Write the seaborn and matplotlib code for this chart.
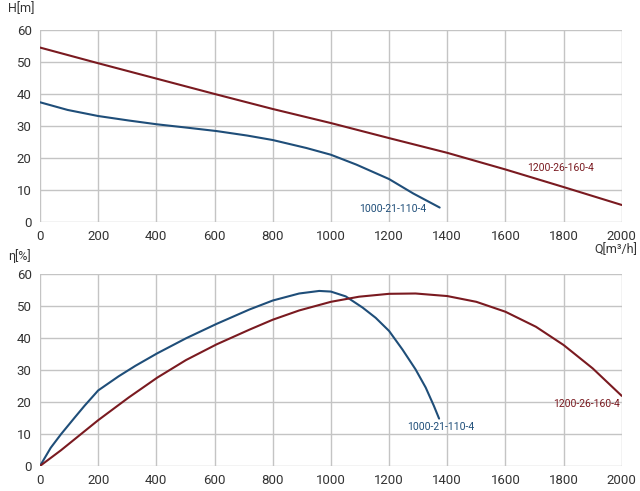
import seaborn as sns
import matplotlib.pyplot as plt
import pandas as pd

# head curves H[m] vs Q[m3/h]
q_small = [0, 95, 200, 305, 403, 502, 607, 712, 800, 916, 1000, 1088, 1200, 1283, 1374]
h_small = [37.4, 35.0, 33.1, 31.7, 30.5, 29.5, 28.4, 27.0, 25.6, 23.1, 21.0, 17.9, 13.4, 8.9, 4.5]
q_big = [0, 200, 400, 600, 800, 1000, 1200, 1400, 1600, 1800, 2000]
h_big = [54.5, 49.6, 44.8, 40.0, 35.3, 30.9, 26.2, 21.6, 16.4, 10.9, 5.3]

# efficiency curves eta[%] vs Q
qe_small = [0, 37, 72, 119, 153, 200, 270, 328, 403, 502, 607, 720, 800, 891, 960,
            1000, 1051, 1109, 1154, 1200, 1246, 1291, 1326, 1354, 1372]
eta_small = [0, 5.7, 9.9, 15.1, 18.8, 23.6, 28.0, 31.3, 35.2, 39.9, 44.4, 48.9, 51.7, 53.9, 54.7,
             54.5, 53.0, 49.5, 46.3, 42.2, 36.4, 30.2, 24.5, 18.8, 14.8]
qe_big = [0, 72, 136, 200, 305, 403, 502, 607, 720, 800, 891, 1000, 1097, 1200, 1291,
          1400, 1500, 1600, 1705, 1800, 1900, 2000]
eta_big = [0, 4.9, 9.6, 14.3, 21.4, 27.6, 33.1, 38.0, 42.6, 45.7, 48.6, 51.3, 52.9, 53.8, 53.9,
           53.1, 51.3, 48.2, 43.5, 37.8, 30.5, 21.9]

name_small = "1000-21-110-4"
name_big = "1200-26-160-4"
c_small = "#1f4e79"
c_big = "#7a1a20"

sns.set_style("white")
plt.rcParams["font.family"] = ["Roboto", "DejaVu Sans"]

fig = plt.figure(figsize=(6.4, 4.91), dpi=100)
ax1 = fig.add_axes([0.0625, 0.548, 0.909, 0.391])
ax2 = fig.add_axes([0.0625, 0.051, 0.909, 0.391])

head = pd.DataFrame({"Q": q_small, "H": h_small})
head2 = pd.DataFrame({"Q": q_big, "H": h_big})
eff = pd.DataFrame({"Q": qe_small, "eta": eta_small})
eff2 = pd.DataFrame({"Q": qe_big, "eta": eta_big})

sns.lineplot(data=head2, x="Q", y="H", ax=ax1, color=c_big, lw=1.5)
sns.lineplot(data=head, x="Q", y="H", ax=ax1, color=c_small, lw=1.5)
sns.lineplot(data=eff, x="Q", y="eta", ax=ax2, color=c_small, lw=1.5)
sns.lineplot(data=eff2, x="Q", y="eta", ax=ax2, color=c_big, lw=1.5)

for ax in (ax1, ax2):
    ax.set_xlim(0, 2000)
    ax.set_ylim(0, 60)
    ax.set_xticks(range(0, 2001, 200))
    ax.set_yticks(range(0, 61, 10))
    ax.grid(True, color="#c4c4c4", lw=1)
    ax.set_xlabel("")
    ax.set_ylabel("")
    for s in ax.spines.values():
        s.set_visible(False)
    ax.tick_params(axis="both", labelsize=9.5, labelcolor="#333333", length=4,
                   width=1, direction="out", pad=2, color="#bbbbbb")

ax1.text(1330, 4.1, name_small, color=c_small, fontsize=7.5, ha="right", va="center")
ax1.text(1790, 16.9, name_big, color=c_big, fontsize=7.5, ha="center", va="center")
ax2.text(1378, 12.3, name_small, color=c_small, fontsize=7.5, ha="center", va="center")
ax2.text(1880, 19.4, name_big, color=c_big, fontsize=7.5, ha="center", va="center")

fig.text(8 / 640, 1 - 9 / 491, "H[m]", fontsize=9, color="#333333", va="center")
fig.text(8 / 640, 1 - 256 / 491, "η[%]", fontsize=9, color="#333333", va="center")
fig.text(637 / 640, 1 - 243 / 491, "Q[m³/h]", fontsize=9, color="#333333", ha="right", va="top")

fig.savefig("out.png", dpi=100)
